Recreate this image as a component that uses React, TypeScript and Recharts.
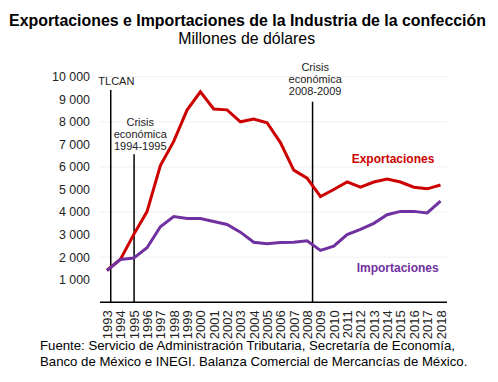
import React from 'react'
import { LineChart, Line, XAxis, YAxis, CartesianGrid, ReferenceLine } from 'recharts'

const years = [1993, 1994, 1995, 1996, 1997, 1998, 1999, 2000, 2001, 2002, 2003, 2004, 2005,
  2006, 2007, 2008, 2009, 2010, 2011, 2012, 2013, 2014, 2015, 2016, 2017, 2018]

// millones de dólares
const exportaciones = [1420, 1900, 3000, 4020, 6060, 7130, 8520, 9330, 8570, 8530, 8000, 8120, 7960,
  7080, 5860, 5500, 4690, 5000, 5340, 5100, 5330, 5460, 5330, 5100, 5030, 5200]
const importaciones = [1400, 1900, 1960, 2420, 3350, 3800, 3710, 3710, 3580, 3450, 3110, 2660, 2600,
  2650, 2660, 2730, 2300, 2490, 3000, 3230, 3500, 3880, 4030, 4030, 3960, 4480]

const yTicks = [1000, 2000, 3000, 4000, 5000, 6000, 7000, 8000, 9000, 10000]

const data = years.map((year, i) => ({ year, exp: exportaciones[i], imp: importaciones[i] }))

const FONT = 'Liberation Sans, Arial, sans-serif'
const RED = '#cc0000'
const PURPLE = '#7030a0'

const fmtMiles = (v: number) => `${Math.floor(v / 1000)} 000`

function YearTick({ x, y, payload }: any) {
  return (
    <text
      transform={`translate(${x + 0.5},${y + 8}) rotate(-90)`}
      textAnchor="end"
      dominantBaseline="central"
      fontSize={13}
      fontFamily={FONT}
      fill="#222"
    >
      {payload.value}
    </text>
  )
}

function note(lines: string[], dx: number, firstDy: number) {
  return ({ viewBox }: any) => (
    <text fontSize={11} fontFamily={FONT} fill="#222" textAnchor="middle">
      {lines.map((l, i) => (
        <tspan key={i} x={viewBox.x + dx} y={viewBox.y + firstDy + i * 12.2}>{l}</tspan>
      ))}
    </text>
  )
}

export default function App() {
  return (
    <div style={{ position: 'absolute', left: 0, top: 0, width: 498, height: 382, background: '#fff', fontFamily: FONT }}>
      <LineChart width={498} height={382} data={data} margin={{ top: 76.7, right: 51, bottom: 39.7, left: 0 }}>
        <CartesianGrid vertical={false} stroke="#f0f0f0" />
        <XAxis
          dataKey="year"
          type="number"
          domain={[1993, 2018]}
          ticks={years}
          interval={0}
          padding={{ left: 7, right: 6.5 }}
          height={40}
          tickLine={false}
          tickSize={0}
          tickMargin={0}
          axisLine={{ stroke: '#000', strokeWidth: 1.5 }}
          tick={<YearTick />}
        />
        <YAxis
          domain={[0, 10000]}
          ticks={yTicks}
          width={100}
          axisLine={false}
          tickLine={false}
          tickSize={0}
          tickMargin={10}
          tickFormatter={fmtMiles}
          tick={{ fill: '#222', fontSize: 12.4, fontFamily: FONT }}
        />
        <ReferenceLine
          segment={[{ x: 1993.28, y: 9410 }, { x: 1993.28, y: 0 }]}
          stroke="#000"
          strokeWidth={1.5}
          label={{ content: note(['TLCAN'], 5.6, -5.3) }}
        />
        <ReferenceLine
          segment={[{ x: 1995.03, y: 6560 }, { x: 1995.03, y: 0 }]}
          stroke="#000"
          strokeWidth={1.5}
          label={{ content: note(['Crisis', 'económica', '1994-1995'], 6.2, -28.6) }}
        />
        <ReferenceLine
          segment={[{ x: 2008.41, y: 8890 }, { x: 2008.41, y: 0 }]}
          stroke="#000"
          strokeWidth={1.5}
          label={{ content: note(['Crisis', 'económica', '2008-2009'], 2.6, -31) }}
        />
        <Line type="linear" dataKey="exp" stroke={RED} strokeWidth={3} dot={false} isAnimationActive={false} />
        <Line type="linear" dataKey="imp" stroke={PURPLE} strokeWidth={3} dot={false} isAnimationActive={false} />
      </LineChart>
      <svg width={498} height={382} style={{ position: 'absolute', left: 0, top: 0, pointerEvents: 'none' }}>
        <text x={247.5} y={26} textAnchor="middle" fontSize={15.9} fontWeight="bold" fontFamily={FONT} fill="#000">
          Exportaciones e Importaciones de la Industria de la confección
        </text>
        <text x={246.7} y={44} textAnchor="middle" fontSize={15.9} fontFamily={FONT} fill="#000">
          Millones de dólares
        </text>
        <text x={351.7} y={162.6} fontSize={12} fontWeight="bold" fontFamily={FONT} fill={RED}>Exportaciones</text>
        <text x={356.7} y={271.6} fontSize={12} fontWeight="bold" fontFamily={FONT} fill={PURPLE}>Importaciones</text>
        <text x={40} y={349.5} fontSize={13.2} fontFamily={FONT} fill="#000">
          Fuente: Servicio de Administración Tributaria, Secretaría de Economía,
        </text>
        <text x={40} y={366} fontSize={13.2} fontFamily={FONT} fill="#000">
          Banco de México e INEGI. Balanza Comercial de Mercancías de México.
        </text>
      </svg>
    </div>
  )
}
